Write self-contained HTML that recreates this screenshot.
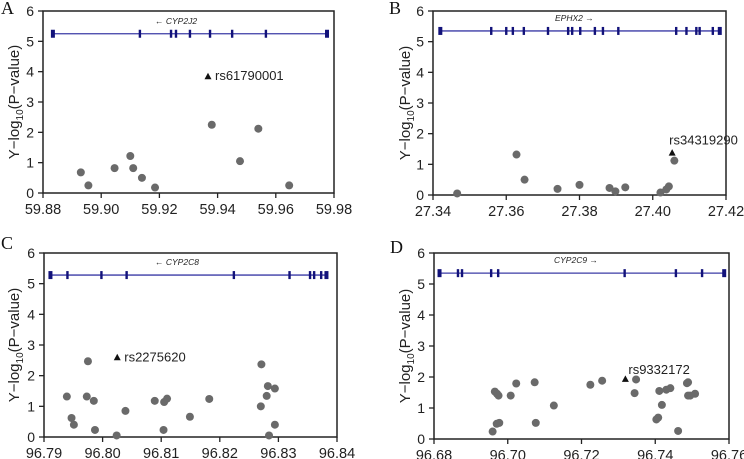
<!DOCTYPE html>
<html><head><meta charset="utf-8"><style>
html,body{margin:0;padding:0;background:#fff;width:744px;height:459px;overflow:hidden}
svg{display:block}
text{font-family:"Liberation Sans",sans-serif}
text.letter{font-family:"Liberation Serif",serif}
</style></head><body>
<svg id="c" width="744" height="459"></svg>
<script>
// Panel A data
const aXTicks=["59.88","59.90","59.92","59.94","59.96","59.98"];
const aExons=[59.8834,59.9133,59.924,59.9257,59.9305,59.9374,59.945,59.9566,59.9776];
const aX=[59.893,59.8956,59.9046,59.910,59.911,59.914,59.9185,59.938,59.9477,59.954,59.9646];
const aY=[0.68,0.25,0.82,1.22,0.82,0.5,0.18,2.25,1.05,2.12,0.25];
const aSnp=[59.9367,3.85];
// Panel B data
const bXTicks=["27.34","27.36","27.38","27.40","27.42"];
const bExons=[27.342,27.3559,27.36,27.3618,27.3648,27.3714,27.3769,27.378,27.3802,27.3842,27.3864,27.3906,27.4064,27.4092,27.4119,27.4128,27.4164,27.4183];
const bX=[27.3466,27.3628,27.365,27.374,27.380,27.3882,27.3898,27.3925,27.4021,27.4037,27.4044,27.4059];
const bY=[0.05,1.32,0.5,0.2,0.33,0.23,0.12,0.25,0.08,0.18,0.28,1.12];
const bSnp=[27.4053,1.38];
// Panel C data
const cXTicks=["96.79","96.80","96.81","96.82","96.83","96.84"];
const cExons=[96.7911,96.794,96.7998,96.8041,96.8224,96.8319,96.8354,96.8361,96.8373,96.8382];
const cX=[96.7939,96.7947,96.7951,96.7973,96.7975,96.7985,96.7987,96.8024,96.8039,96.8089,96.8104,96.8105,96.8110,96.8149,96.8182,96.827,96.8271,96.828,96.8282,96.8284,96.8294,96.8294];
const cY=[1.32,0.62,0.4,1.32,2.47,1.18,0.23,0.05,0.85,1.18,0.23,1.14,1.25,0.66,1.24,1.0,2.37,1.34,1.66,0.05,1.58,0.4];
const cSnp=[96.8025,2.6];
// Panel D data
const dXTicks=["96.68","96.70","96.72","96.74","96.76"];
const dExons=[96.6815,96.6865,96.6876,96.6955,96.6974,96.7317,96.7456,96.7527,96.7587];
const dX=[96.6959,96.6965,96.6971,96.6975,96.6970,96.6977,96.7008,96.7023,96.7073,96.7076,96.7125,96.7224,96.7256,96.7348,96.7344,96.7403,96.7408,96.7411,96.7418,96.743,96.7441,96.7462,96.7486,96.7489,96.7489,96.7495,96.7508];
const dY=[0.24,1.53,1.46,1.4,0.49,0.52,1.4,1.79,1.83,0.52,1.08,1.75,1.88,1.92,1.48,0.63,0.69,1.55,1.1,1.59,1.64,0.26,1.8,1.83,1.4,1.4,1.46];
const dSnp=[96.7319,1.94];
const yTicks=[0,1,2,3,4,5,6];

const NS="http://www.w3.org/2000/svg";
const svg=document.getElementById('c');
function mk(t,a,p){const e=document.createElementNS(NS,t);for(const k in a)e.setAttribute(k,a[k]);(p||svg).appendChild(e);return e;}

const panels=[
 {id:'a',letter:'A',L:43,R:334,T:11,B:193,ticks:aXTicks,ex:aExons,gy:5.25,xs:aX,ys:aY,snp:aSnp,snpName:'rs61790001',lab:'right',gene:'CYP2J2',dir:-1,gx:155,letterX:1,letterY:14,titleX:14},
 {id:'b',letter:'B',L:433,R:726,T:11,B:195,ticks:bXTicks,ex:bExons,gy:5.35,xs:bX,ys:bY,snp:bSnp,snpName:'rs34319290',lab:'top',gene:'EPHX2',dir:1,gx:555,letterX:389,letterY:14,titleX:405},
 {id:'c',letter:'C',L:44,R:337,T:253,B:437,ticks:cXTicks,ex:cExons,gy:5.28,xs:cX,ys:cY,snp:cSnp,snpName:'rs2275620',lab:'right',gene:'CYP2C8',dir:-1,gx:155,letterX:1,letterY:249,titleX:14},
 {id:'d',letter:'D',L:434,R:729,T:253,B:439,ticks:dXTicks,ex:dExons,gy:5.35,xs:dX,ys:dY,snp:dSnp,snpName:'rs9332172',lab:'top',gene:'CYP2C9',dir:1,gx:554,letterX:390,letterY:253,titleX:405}
];

panels.forEach(p=>{
 const g=mk('g',{});
 
 
 const x0=parseFloat(p.ticks[0]),x1=parseFloat(p.ticks[p.ticks.length-1]);
 const sx=v=>p.L+(v-x0)/(x1-x0)*(p.R-p.L);
 const sy=v=>p.B-v/6*(p.B-p.T);
 const lt=mk('text',{x:p.letterX,y:p.letterY,'font-size':18,'class':'letter',fill:'#111'},g);lt.textContent=p.letter;
 
 const fr=mk('rect',{x:p.L,y:p.T,width:p.R-p.L,height:p.B-p.T,fill:'none',stroke:'#222','stroke-width':1.5},g);
 
 yTicks.forEach(t=>{
  mk('line',{x1:p.L-5,x2:p.L,y1:sy(t),y2:sy(t),stroke:'#222','stroke-width':1.3},g);
  const tx=mk('text',{x:p.L-9,y:sy(t)+5,'font-size':14,'text-anchor':'end',fill:'#222'},g);tx.textContent=t;
  
 });
 p.ticks.forEach(t=>{
  const X=sx(parseFloat(t));
  mk('line',{x1:X,x2:X,y1:p.B,y2:p.B+5,stroke:'#222','stroke-width':1.3},g);
  const tx=mk('text',{x:X,y:p.B+21,'font-size':14.5,'text-anchor':'middle',fill:'#222'},g);tx.textContent=t;
  
 });
 const yt=mk('text',{x:0,y:0,'font-size':15,'text-anchor':'middle',fill:'#222',transform:`translate(${p.titleX+5},${(p.T+p.B)/2}) rotate(-90)`},g);
 yt.innerHTML='Y\u2212log<tspan font-size="10" dy="4">10</tspan><tspan dy="-4">(P\u2212value)</tspan>';
 
 const GY=sy(p.gy);
 const gl=mk('line',{x1:sx(p.ex[0]),x2:sx(p.ex[p.ex.length-1]),y1:GY,y2:GY,stroke:'#3b3ba6','stroke-width':1.3},g);
 
 p.ex.forEach((e,i)=>{
  const w=(i===0||i===p.ex.length-1)?4:2.4;
  const r=mk('rect',{x:sx(e)-w/2,y:GY-4,width:w,height:8,fill:'#12127a'},g);
  
 });
 const gt=mk('text',{x:p.gx,y:GY-10,'font-size':8.5,'font-style':'italic',fill:'#222'},g);
 gt.textContent=p.dir<0?'\u2190  '+p.gene:p.gene+'  \u2192';
 
 p.xs.forEach((v,i)=>{
  const c=mk('circle',{cx:sx(v),cy:sy(p.ys[i]),r:4,fill:'#6a6a6a'},g);
  
 });
 const TX=sx(p.snp[0]),TY=sy(p.snp[1]);
 const tr=mk('polygon',{points:`${TX-3.5},${TY+3} ${TX+3.5},${TY+3} ${TX},${TY-3.5}`,fill:'#111'},g);
 
 let lx=TX+7,ly=TY+4;
 if(p.lab==='top'){lx=TX-3;ly=TY-8;}
 if(p.id==='d'){lx=TX+3;ly=TY-5;}
 const sl=mk('text',{x:lx,y:ly,'font-size':13,fill:'#222'},g);sl.textContent=p.snpName;
 
});
</script>
</body></html>
